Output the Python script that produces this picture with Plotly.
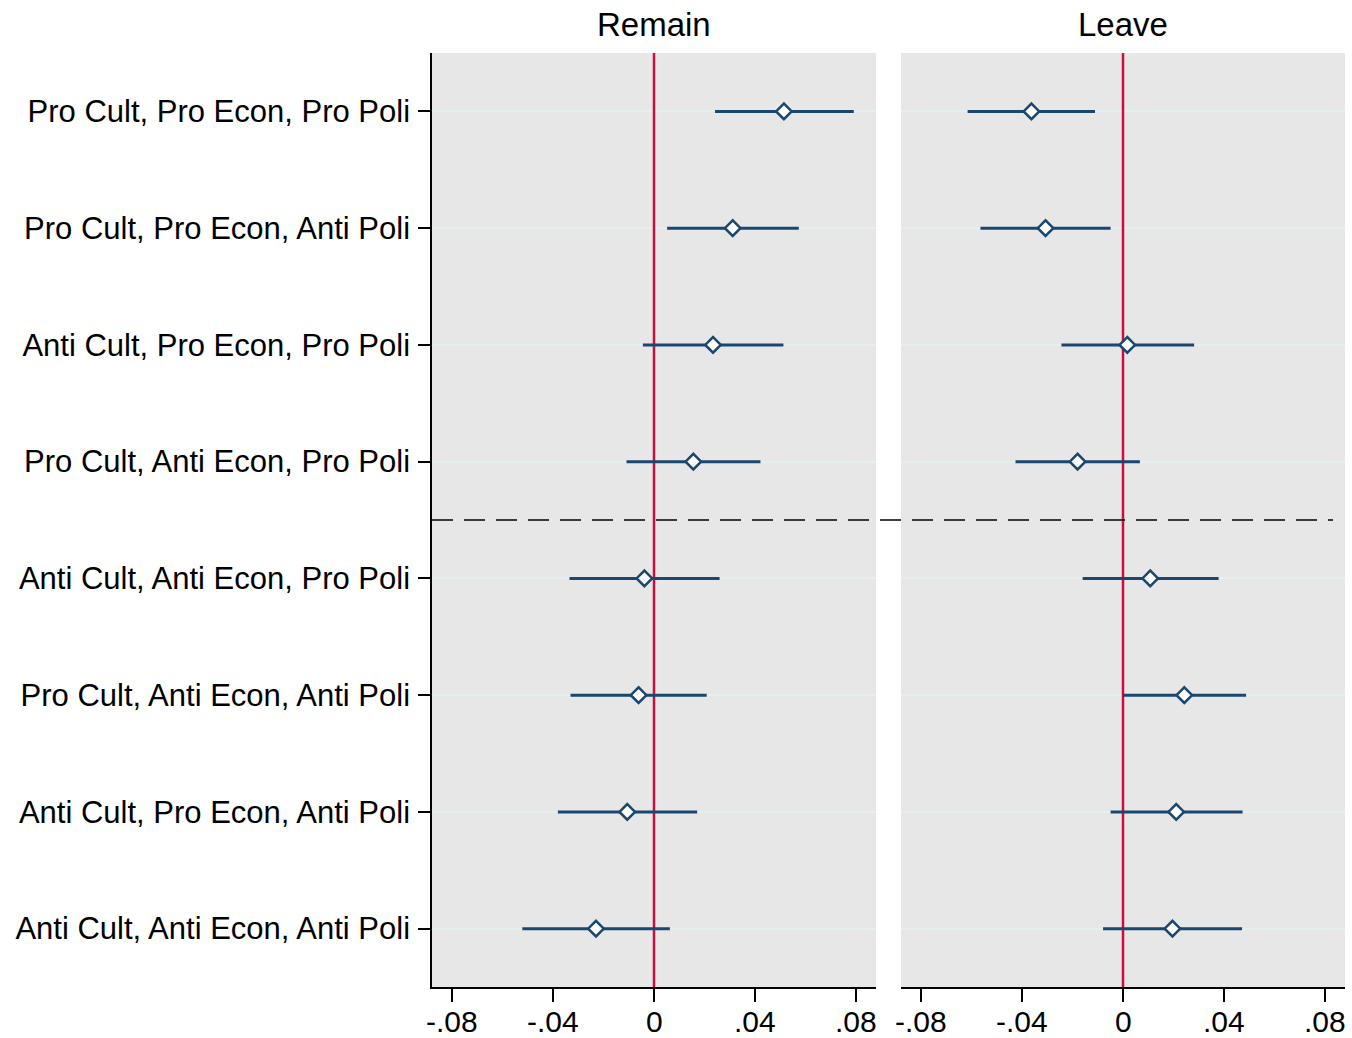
import plotly.graph_objects as go

# Attitude profiles, listed top to bottom
profiles = [
    "Pro Cult, Pro Econ, Pro Poli",
    "Pro Cult, Pro Econ, Anti Poli",
    "Anti Cult, Pro Econ, Pro Poli",
    "Pro Cult, Anti Econ, Pro Poli",
    "Anti Cult, Anti Econ, Pro Poli",
    "Pro Cult, Anti Econ, Anti Poli",
    "Anti Cult, Pro Econ, Anti Poli",
    "Anti Cult, Anti Econ, Anti Poli",
]

# Remain: point estimates and 95% confidence bounds
remain_est = [0.0515, 0.0312, 0.0234, 0.0156, -0.0038, -0.0061, -0.0106, -0.0230]
remain_lo = [0.0242, 0.0052, -0.0044, -0.0109, -0.0335, -0.0331, -0.0381, -0.0522]
remain_hi = [0.0792, 0.0574, 0.0513, 0.0422, 0.0260, 0.0209, 0.0171, 0.0063]

# Leave: point estimates and 95% confidence bounds
leave_est = [-0.0363, -0.0307, 0.0017, -0.0180, 0.0108, 0.0243, 0.0211, 0.0196]
leave_lo = [-0.0616, -0.0565, -0.0244, -0.0426, -0.0160, 0.0000, -0.0049, -0.0079]
leave_hi = [-0.0111, -0.0049, 0.0282, 0.0067, 0.0379, 0.0488, 0.0474, 0.0472]

x_ticks = [-0.08, -0.04, 0, 0.04, 0.08]
x_ticktext = ["-.08", "-.04", "0", ".04", ".08"]
panel_titles = ["Remain", "Leave"]

NAVY = "#1a476f"
RED = "#c90f3e"
FONT = "Liberation Sans, Arial, Helvetica, sans-serif"
W, H = 1352, 1038

rows = list(range(len(profiles)))
n = len(profiles)

fig = go.Figure()


def add_panel(est, lo, hi, xa, ya):
    # zero reference line, drawn first so the estimates sit on top of it
    fig.add_trace(go.Scatter(
        x=[0, 0], y=[-0.5, n - 0.5], xaxis=xa, yaxis=ya, mode="lines",
        line=dict(color=RED, width=2.5), showlegend=False, hoverinfo="skip",
    ))
    fig.add_trace(go.Scatter(
        x=est, y=rows, xaxis=xa, yaxis=ya, mode="markers",
        marker=dict(symbol="diamond", size=12, color="white",
                    line=dict(color=NAVY, width=2.5)),
        error_x=dict(type="data", symmetric=False,
                     array=[h - e for h, e in zip(hi, est)],
                     arrayminus=[e - l for e, l in zip(est, lo)],
                     color=NAVY, thickness=3, width=0),
        showlegend=False, hoverinfo="skip",
    ))


add_panel(remain_est, remain_lo, remain_hi, "x", "y")
add_panel(leave_est, leave_lo, leave_hi, "x2", "y2")

xrange = [-0.088, 0.088]
ydom = [(H - 987) / H, (H - 53) / H]
# tick marks come from the axes; their labels are placed as annotations below
common_x = dict(range=xrange, tickvals=x_ticks, showticklabels=False,
                showgrid=False, zeroline=False, showline=True,
                linecolor="black", linewidth=1.5, ticks="outside",
                ticklen=13, tickwidth=1.5, tickcolor="black",
                automargin=False)
common_y = dict(tickvals=rows, range=[n - 0.5, -0.5], domain=ydom,
                showgrid=True, gridcolor="#e6eff0", gridwidth=2,
                zeroline=False, automargin=False)

fig.update_layout(
    width=W, height=H,
    margin=dict(l=0, r=0, t=0, b=0),
    paper_bgcolor="white", plot_bgcolor="#e7e7e7",
    xaxis=dict(domain=[432 / W, 876 / W], anchor="y", **common_x),
    xaxis2=dict(domain=[901 / W, 1345 / W], anchor="y2", **common_x),
    yaxis=dict(anchor="x", ticktext=profiles, showline=True,
               linecolor="black", linewidth=1.5,
               ticks="outside", ticklen=12, tickwidth=1.5, tickcolor="black",
               ticklabelstandoff=2,
               tickfont=dict(family=FONT, size=31, color="black"), **common_y),
    yaxis2=dict(anchor="x2", showline=False, showticklabels=False, ticks="",
                **common_y),
)

# x tick labels for both panels
for xr in ["x", "x2"]:
    for v, t in zip(x_ticks, x_ticktext):
        fig.add_annotation(text=t, xref=xr, yref="paper", x=v, y=1 - 1021 / H,
                           xanchor="center", yanchor="middle", showarrow=False,
                           font=dict(family=FONT, size=30, color="black"))

# Dashed separator between the top four and bottom four profiles
fig.add_shape(type="line", xref="paper", yref="y", x0=432 / W, x1=1333 / W,
              y0=3.5, y1=3.5, line=dict(color="black", width=1.5,
                                        dash="21px,11px"), layer="above")

# Panel titles
for title, xa in zip(panel_titles, ["xaxis", "xaxis2"]):
    dom = fig.layout[xa].domain
    fig.add_annotation(text=title, xref="paper", yref="paper",
                       x=(dom[0] + dom[1]) / 2, y=1 - 25 / H,
                       xanchor="center", yanchor="middle", showarrow=False,
                       font=dict(family=FONT, size=33, color="black"))

fig.write_html("out.html")
